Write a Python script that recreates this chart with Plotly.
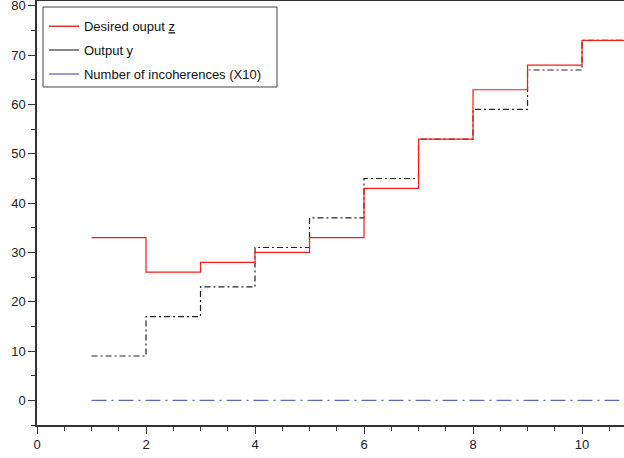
import plotly.graph_objects as go

# Data
steps = [1, 2, 3, 4, 5, 6, 7, 8, 9, 10]
desired_z = [33, 26, 28, 30, 33, 43, 53, 63, 68, 73]
output_y = [9, 17, 23, 31, 37, 45, 53, 59, 67, 73]
incoherences_x10 = [0, 0, 0, 0, 0, 0, 0, 0, 0, 0]

x_ticks = [0, 2, 4, 6, 8, 10]
y_ticks = [0, 10, 20, 30, 40, 50, 60, 70, 80]

# extend each step series by one more step so the last level is drawn
xs = steps + [steps[-1] + 1]
def ext(v):
    return v + [v[-1]]

fig = go.Figure()

fig.add_trace(go.Scatter(x=xs, y=ext(incoherences_x10), mode="lines", line_shape="hv",
                         line=dict(color="#5a68bb", width=1.2, dash="15px,5px,2px,5px"),
                         showlegend=False, hoverinfo="skip"))
fig.add_trace(go.Scatter(x=xs, y=ext(output_y), mode="lines", line_shape="hv",
                         line=dict(color="#222222", width=1.2, dash="6px,3px,2px,3px"),
                         showlegend=False, hoverinfo="skip"))
fig.add_trace(go.Scatter(x=xs, y=ext(desired_z), mode="lines", line_shape="hv",
                         line=dict(color="#ff1a1a", width=1.2),
                         showlegend=False, hoverinfo="skip"))

# legend entries (solid line samples, as in the reference)
legend_items = [
    ("Desired ouput <u>z</u>", "#e83030"),
    ("Output y", "#606060"),
    ("Number of incoherences (X10)", "#6f7fc8"),
]
for i, (name, col) in enumerate(legend_items):
    fig.add_trace(go.Scatter(x=[None], y=[None], mode="lines", name=name,
                             line=dict(color=col, width=1.5), legendgroup=f"g{i}"))

axis_font = dict(family="Liberation Sans, Arial, sans-serif", size=13, color="#222222")

# legend frame
fig.add_shape(type="rect", xref="paper", yref="paper", x0=0.0102, x1=0.4089,
              y0=0.7972, y1=0.9858, layer="above",
              line=dict(color="#444444", width=1), fillcolor="white")

fig.update_layout(
    width=624, height=458,
    margin=dict(l=37, r=0, t=1, b=33, autoexpand=False),
    paper_bgcolor="white", plot_bgcolor="white",
    font=axis_font,
    legend=dict(x=0.0119, y=0.976, xanchor="left", yanchor="top",
                bgcolor="rgba(0,0,0,0)", borderwidth=0,
                font=dict(family="Liberation Sans, Arial, sans-serif", size=13, color="#111111"),
                tracegroupgap=4, traceorder="grouped", itemwidth=30),
    xaxis=dict(range=[0, 10.77], tickvals=x_ticks, ticks="outside", ticklen=7, tickwidth=1.2,
               tickcolor="#333333", showline=True, linecolor="#333333", linewidth=1.5,
               mirror=True, showgrid=False, zeroline=False, tickfont=axis_font,
               automargin=False, ticklabeloverflow="allow",
               minor=dict(dtick=0.5, tick0=0, ticks="outside", ticklen=4, tickcolor="#333333",
                          tickwidth=1, showgrid=False)),
    yaxis=dict(range=[-5, 81], tickvals=y_ticks, ticks="outside", ticklen=7, tickwidth=1.2,
               tickcolor="#333333", showline=True, linecolor="#333333", linewidth=1.5,
               mirror=False, showgrid=False, zeroline=False, tickfont=axis_font,
               automargin=False, ticklabeloverflow="allow",
               minor=dict(dtick=5, tick0=-5, ticks="outside", ticklen=4, tickcolor="#333333",
                          tickwidth=1, showgrid=False)),
)

fig.write_html("out.html", config={"displayModeBar": False},
               post_script="document.body.style.margin='0';document.body.style.padding='0';")
